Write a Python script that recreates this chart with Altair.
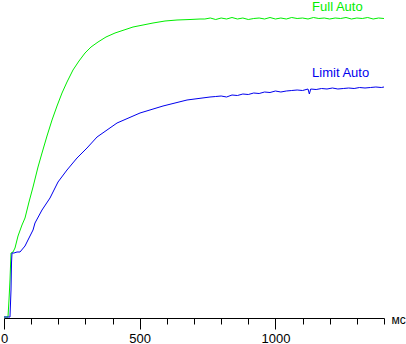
import altair as alt
import pandas as pd

# Full Auto (green)
full_t = [0, 14.7, 18.4, 22.1, 25.8, 33.2, 40.5, 51.6, 66.3, 77.4, 92.1, 106.9, 125.3, 140, 158.4,
          176.9, 195.3, 213.7, 232.1, 254.2, 276.3, 298.5, 320.6, 346.4, 375.8, 409, 442.2, 475.3,
          512.2, 549, 593.2, 637.4, 685.3, 722.2,
          740, 760, 780, 800, 820, 840, 860, 880, 900, 920, 940, 960, 980, 1000, 1020, 1040, 1060,
          1080, 1100, 1120, 1140, 1160, 1180, 1200, 1220, 1240, 1260, 1280, 1300, 1320, 1340, 1360,
          1380, 1400]
full_v = [1, 1, 18, 38, 65, 66, 70, 82, 93, 100, 116, 131, 151, 165, 182,
          198, 212, 225, 236, 248, 257, 265, 271, 276, 281, 285, 288, 291,
          293, 295, 297, 298, 298.5, 299,
          299, 300, 298.5, 300, 299, 300.5, 299, 300, 298.5, 299.5, 300, 299, 300.5, 299, 300, 299, 300.5,
          299.5, 300, 299, 300.5, 299.5, 300, 299, 300, 299.5, 300.5, 299, 300, 299.5, 300.5, 299,
          300, 299.5]

# Limit Auto (blue)
limit_t = [0, 22.1, 25.8, 27.6, 29.5, 36.8, 47.9, 59, 77.4, 88.4, 106.9, 114.2, 140, 169.5, 199,
           232.1, 269, 305.8, 342.7, 416.4, 501.1, 585.8, 674.3, 759,
           780, 800, 820, 840, 860, 880, 900, 920, 940, 960, 980, 1000, 1020, 1040, 1060, 1080, 1100,
           1120, 1125, 1130, 1150, 1170, 1190, 1210, 1230, 1250, 1270, 1290, 1310, 1330, 1350, 1370,
           1390, 1400]
limit_v = [1, 1, 28, 55, 65, 65, 66, 66, 72, 78, 88, 95, 108, 120, 136,
           148, 160, 170, 181, 195, 205, 212, 218, 221,
           221.5, 222, 221, 223, 222.5, 224, 223.5, 225, 224.5, 226, 225.5, 227, 226, 227, 227.5, 228, 227.5,
           229, 224, 229, 228.5, 229.5, 229, 230, 229, 229.5, 230, 229.5, 230.5, 230, 230.5, 231,
           230.5, 231]

series_names = ["Full Auto", "Limit Auto"]
series_colors = ["#00ee00", "#0000ee"]
label_t = [1135, 1135]
label_v = [307.5, 241]

tick_values = list(range(0, 1401, 100))

df = pd.concat([
    pd.DataFrame({"t": full_t, "v": full_v, "s": series_names[0]}),
    pd.DataFrame({"t": limit_t, "v": limit_v, "s": series_names[1]}),
], ignore_index=True)
labels = pd.DataFrame({"t": label_t, "v": label_v, "s": series_names})

FONT = "Liberation Sans"

xscale = alt.Scale(domain=[0, 1400], nice=False, zero=False)
yscale = alt.Scale(domain=[0, 318], nice=False, zero=False)
cscale = alt.Scale(domain=series_names, range=series_colors)

xaxis = alt.Axis(
    values=tick_values,
    tickSize={"condition": {"test": "datum.value % 500 === 0", "value": 11}, "value": 6},
    labelExpr="datum.value % 500 === 0 ? datum.value : ''",
    labelFontSize=13, labelFont=FONT, labelColor="black", labelPadding=3,
    domainColor="black", tickColor="black", grid=False, labelFlush=False, labelOverlap=False,
    title="мс", titleFont=FONT, titleFontSize=12, titleFontWeight="normal", titleColor="black",
    titleX=387, titleY=1, titleAlign="left", titleBaseline="middle", titleAngle=0,
)

lines = alt.Chart(df).mark_line(strokeWidth=1, interpolate="linear").encode(
    x=alt.X("t:Q", scale=xscale, axis=xaxis),
    y=alt.Y("v:Q", scale=yscale, axis=None),
    color=alt.Color("s:N", scale=cscale, legend=None),
    detail="s:N",
)

texts = alt.Chart(labels).mark_text(align="left", baseline="alphabetic", fontSize=13, font=FONT).encode(
    x=alt.X("t:Q", scale=xscale, axis=xaxis),
    y=alt.Y("v:Q", scale=yscale, axis=None),
    text="s:N",
    color=alt.Color("s:N", scale=cscale, legend=None),
)

chart = alt.layer(lines, texts).properties(
    width=380, height=318,
    background="white",
    padding={"left": 4, "top": 0, "right": 22, "bottom": 26},
    autosize=alt.AutoSizeParams(type="none"),
).configure_view(stroke=None)

chart.save("out.html", embed_options={"renderer": "svg", "actions": False})
